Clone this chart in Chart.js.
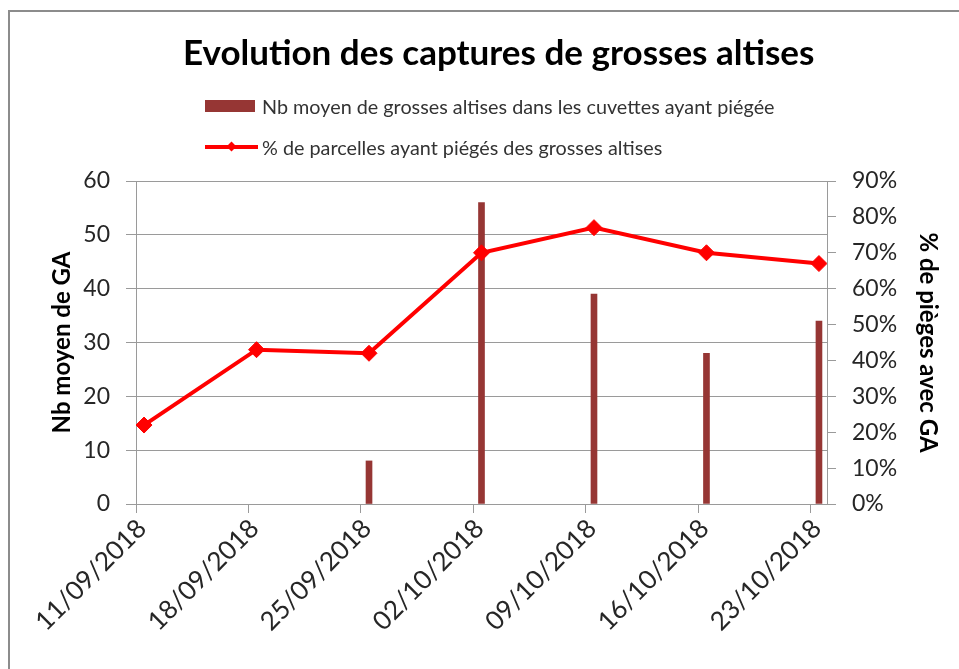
<!DOCTYPE html>
<html lang="fr">
<head>
<meta charset="utf-8">
<title>Evolution des captures de grosses altises</title>
<script src="https://cdn.jsdelivr.net/npm/chart.js@4.4.1/dist/chart.umd.min.js"></script>
<style>
    html, body { margin: 0; padding: 0; background: #ffffff; }
    #wrap { position: relative; width: 959px; height: 669px; overflow: hidden; }
    #frame {
        position: absolute; left: 8px; top: 10px; width: 1000px; height: 700px;
        border-left: 2px solid #8c8c8c; border-top: 2px solid #8c8c8c;
        pointer-events: none;
    }
    #chart { position: absolute; left: 0; top: 0; }
    #title {
        position: absolute; left: 183px; width: 628px; top: 30px; height: 42px; line-height: 42px;
        text-align: center; white-space: nowrap;
        font-family: Lato, "Open Sans", sans-serif; font-size: 35px; font-weight: bold; color: #000000;
    }
    .legend-row {
        position: absolute; left: 205px; height: 24px;
        display: flex; align-items: center;
        font-family: Lato, "Open Sans", sans-serif; font-size: 19.8px; color: #333333;
    }
    .swatch-bar { width: 50px; height: 12px; background: #963634; margin-right: 7px; }
    .swatch-line { position: relative; width: 53px; height: 4px; background: #ff0000; margin-right: 4px; }
    .swatch-line::after {
        content: ""; position: absolute; left: 23px; top: -2px; width: 7px; height: 7px;
        background: #ff0000; transform: rotate(45deg);
    }
</style>
</head>
<body>
<div id="wrap">
    <canvas id="chart" width="959" height="669"></canvas>
    <div id="frame"></div>
    <div id="title">Evolution des captures de grosses altises</div>
    <div class="legend-row" style="top:94px"><span class="swatch-bar"></span>Nb moyen de grosses altises dans les cuvettes ayant piégée</div>
    <div class="legend-row" style="top:135px"><span class="swatch-line"></span>% de parcelles ayant piégés des grosses altises</div>
</div>
<script>
// Données (dates de relevé)
const dates = ['11/09/2018', '18/09/2018', '25/09/2018', '02/10/2018', '09/10/2018', '16/10/2018', '23/10/2018'];
const nbMoyenGA = [0, 0, 8, 56, 39, 28, 34];          // axe gauche
const pctParcelles = [22, 43, 42, 70, 77, 70, 67];    // axe droit (%)
const leftTicks = [0, 10, 20, 30, 40, 50, 60];
const rightTicks = [0, 10, 20, 30, 40, 50, 60, 70, 80, 90];

const FONT = 'Lato, "Open Sans", sans-serif';
const GRID = '#9a9a9a';
const BAR = '#963634';

// axe date façon Excel : un jour = une case, la barre au milieu du jour
function dayIndex(s) {
    const p = s.split('/').map(Number);
    const f = dates[0].split('/').map(Number);
    return Math.round((Date.UTC(p[2], p[1] - 1, p[0]) - Date.UTC(f[2], f[1] - 1, f[0])) / 86400000);
}
const dayTicks = dates.map(dayIndex);
const barPoints = dates.map((d, i) => ({ x: dayIndex(d) + 0.5, y: nbMoyenGA[i] }));
const linePoints = dates.map((d, i) => ({ x: dayIndex(d) + 0.5, y: pctParcelles[i] }));

new Chart(document.getElementById('chart'), {
    type: 'bar',
    data: {
        datasets: [
            {
                type: 'line',
                label: '% de parcelles ayant piégés des grosses altises',
                data: linePoints,
                yAxisID: 'y1',
                borderColor: '#ff0000',
                backgroundColor: '#ff0000',
                borderWidth: 4,
                pointStyle: 'rectRot',
                pointRadius: 8,
                pointBorderWidth: 1,
                tension: 0,
                order: 0
            },
            {
                label: 'Nb moyen de grosses altises dans les cuvettes ayant piégée',
                data: barPoints,
                yAxisID: 'y',
                // pas de trait parasite pour les valeurs nulles
                backgroundColor: c => (c.raw && c.raw.y ? BAR : 'rgba(0,0,0,0)'),
                barThickness: 6,
                order: 1
            }
        ]
    },
    options: {
        responsive: false,
        animation: false,
        layout: { padding: { top: 181 } },
        plugins: {
            legend: { display: false },
            tooltip: { enabled: false },
            title: { display: false }
        },
        scales: {
            x: {
                type: 'linear',
                offset: false,
                min: 0,
                max: dayTicks[dayTicks.length - 1] + 1,
                afterBuildTicks: s => { s.ticks = dayTicks.map(v => ({ value: v })); },
                afterFit: s => { s.height = 165; },
                grid: { offset: false, drawOnChartArea: false, color: GRID, tickLength: 9 },
                border: { color: GRID },
                ticks: {
                    autoSkip: false,
                    minRotation: 45,
                    maxRotation: 45,
                    padding: 0,
                    labelOffset: 6,
                    color: '#262626',
                    font: { family: FONT, size: 26 },
                    callback: (v, i) => dates[i]
                }
            },
            y: {
                position: 'left',
                min: 0,
                max: 60,
                afterBuildTicks: s => { s.ticks = leftTicks.map(v => ({ value: v })); },
                afterFit: s => { s.width = 136; },
                grid: { color: GRID, tickLength: 10 },
                border: { color: GRID },
                title: {
                    display: true,
                    text: 'Nb moyen de GA',
                    color: '#000000',
                    font: { family: FONT, size: 24, weight: 'bold' },
                    padding: { top: 48, bottom: 0 }
                },
                ticks: { padding: 16, color: '#262626', font: { family: FONT, size: 23 } }
            },
            y1: {
                position: 'right',
                min: 0,
                max: 90,
                afterBuildTicks: s => { s.ticks = rightTicks.map(v => ({ value: v })); },
                afterFit: s => { s.width = 132; },
                grid: { drawOnChartArea: false, color: GRID, tickLength: 9 },
                border: { color: GRID },
                title: {
                    display: true,
                    text: '% de pièges avec GA',
                    color: '#000000',
                    font: { family: FONT, size: 24, weight: 'bold' },
                    padding: { top: 17, bottom: 0 }
                },
                ticks: {
                    padding: 16,
                    color: '#262626',
                    font: { family: FONT, size: 23 },
                    callback: v => v + '%'
                }
            }
        }
    }
});
</script>
</body>
</html>
